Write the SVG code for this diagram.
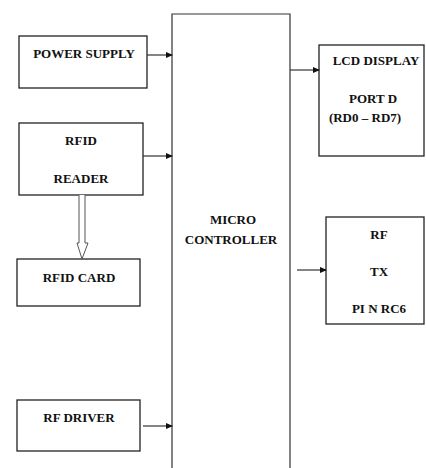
<svg xmlns="http://www.w3.org/2000/svg" width="426" height="468" viewBox="0 0 426 468">
<style>
.box{fill:#fff;stroke:#222;stroke-width:1.3}
.ln{stroke:#333;stroke-width:1.2;fill:none}
.t{font-family:"Liberation Serif",serif;font-weight:bold;font-size:13px;fill:#111;text-anchor:middle}
</style>
<defs>
<marker id="ah" markerWidth="7" markerHeight="6" refX="6" refY="3" orient="auto" markerUnits="userSpaceOnUse">
<path d="M0,0 L7,3 L0,6 Z" fill="#111"/>
</marker>
</defs>
<rect width="426" height="468" fill="#fff"/>
<g id="micro">
<path class="ln" d="M172,468 V14 H290 V468"/>
<text class="t" x="233" y="224">MICRO</text>
<text class="t" x="231" y="244">CONTROLLER</text>
</g>
<g id="power">
<rect class="box" x="19" y="36" width="128" height="52"/>
<text class="t" x="84" y="58">POWER SUPPLY</text>
</g>
<g id="reader">
<rect class="box" x="19" y="123" width="124" height="72"/>
<text class="t" x="81" y="145">RFID</text>
<text class="t" x="81" y="183">READER</text>
</g>
<g id="card">
<rect class="box" x="17" y="259" width="123" height="47"/>
<text class="t" x="79" y="282">RFID CARD</text>
</g>
<g id="driver">
<rect class="box" x="17" y="400" width="123" height="51"/>
<text class="t" x="79" y="422">RF DRIVER</text>
</g>
<g id="lcd">
<rect class="box" x="319" y="45" width="105" height="111"/>
<text class="t" x="376" y="65">LCD DISPLAY</text>
<text class="t" x="373" y="103">PORT D</text>
<text class="t" x="365" y="122">(RD0 – RD7)</text>
</g>
<g id="rftx">
<rect class="box" x="326" y="217" width="98" height="107"/>
<text class="t" x="379" y="239">RF</text>
<text class="t" x="379" y="276">TX</text>
<text class="t" x="379" y="313">PI N RC6</text>
</g>
<g id="connectors">
<line class="ln" x1="147" y1="55" x2="172" y2="55" marker-end="url(#ah)"/>
<line class="ln" x1="143" y1="156" x2="172" y2="156" marker-end="url(#ah)"/>
<line class="ln" x1="143" y1="426" x2="172" y2="426" marker-end="url(#ah)"/>
<line class="ln" x1="290" y1="70" x2="319" y2="70" marker-end="url(#ah)"/>
<line class="ln" x1="297" y1="270" x2="326" y2="270" marker-end="url(#ah)"/>
<path d="M79,195 V243 H77 L82,259 L88,243 H85 V195" fill="#fff" stroke="#555" stroke-width="1"/>
</g>
</svg>
